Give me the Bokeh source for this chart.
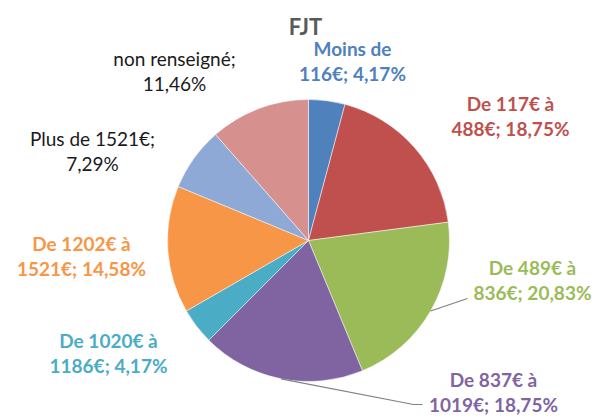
import math
from bokeh.plotting import figure
from bokeh.models import ColumnDataSource
from bokeh.core.properties import value
from bokeh.embed import file_html
from bokeh.resources import INLINE

# ---- data ----
categories = ["Moins de 116€", "De 117€ à 488€", "De 489€ à 836€", "De 837€ à 1019€",
              "De 1020€ à 1186€", "De 1202€ à 1521€", "Plus de 1521€", "non renseigné"]
percents = [4.17, 18.75, 20.83, 18.75, 4.17, 14.58, 7.29, 11.46]
title_text = "FJT"

# ---- style / layout ----
slice_colors = ["#4F81BD", "#C0504D", "#9BBB59", "#8064A2", "#4BACC6", "#F79646", "#8EA9D6", "#D6918F"]
label_colors = ["#4F81BD", "#C0504D", "#9BBB59", "#8064A2", "#4BACC6", "#F79646", "#1a1a1a", "#1a1a1a"]
label_bold = [True, True, True, True, True, True, False, False]
wrap_words = [2, 3, 3, 3, 3, 3, 3, 2]          # words on first line
label_offsets = [(44, 180), (202, 125), (224, -39), (185, -151),
                 (-200, -112), (-227, -15), (-216, 90), (-134, 170)]
W, H = 602, 419
cx, cy, R = 308, 179, 141
FS = "19px"
GAP = 12.5


def fr(v):
    return f"{v:.2f}".replace(".", ",") + "%"


def label_lines(cat, pct, k):
    words = (cat + ";").split(" ")
    return " ".join(words[:k]), " ".join(words[k:] + [fr(pct)]).strip()


total = sum(percents)
starts, ends, mids = [], [], []
acc = 0.0
for v in percents:
    a0 = acc / total * 2 * math.pi
    acc += v
    a1 = acc / total * 2 * math.pi
    starts.append(math.pi / 2 - a0)
    ends.append(math.pi / 2 - a1)
    mids.append(math.pi / 2 - (a0 + a1) / 2)

src = ColumnDataSource(dict(x=[cx] * len(percents), y=[cy] * len(percents),
                            start=starts, end=ends, color=slice_colors))

p = figure(width=W, height=H, x_range=(0, W), y_range=(0, H),
           x_axis_type=None, y_axis_type=None, toolbar_location=None,
           output_backend="svg", min_border=0, outline_line_color=None)
p.grid.visible = False

p.wedge(x="x", y="y", radius=R, start_angle="start", end_angle="end",
        direction="clock", fill_color="color", line_color="white", line_width=0.5,
        source=src)

# leader lines (green and purple)
for i, pts in [(2, [(467, 121)]), (3, [(413, 15), (422, 15)])]:
    sx = cx + R * math.cos(mids[i])
    sy = cy + R * math.sin(mids[i])
    xs = [sx] + [q[0] for q in pts]
    ys = [sy] + [q[1] for q in pts]
    p.line(xs, ys, line_color="#808080", line_width=1.2)

# labels
for i, (cat, pct) in enumerate(zip(categories, percents)):
    l1, l2 = label_lines(cat, pct, wrap_words[i])
    dx, dy = label_offsets[i]
    x0, y0 = cx + dx, cy + dy
    p.text(x=[x0, x0], y=[y0 + GAP, y0 - GAP], text=[l1, l2],
           text_align="center", text_baseline="middle",
           text_font=value("Lato"), text_font_size=FS,
           text_font_style="bold" if label_bold[i] else "normal",
           text_color=label_colors[i])

p.text(x=[305], y=[393], text=[title_text], text_align="center", text_baseline="middle",
       text_font=value("Lato"), text_font_size="22px", text_font_style="bold",
       text_color="#595959")

open("out.html", "w").write(file_html(p, INLINE))
